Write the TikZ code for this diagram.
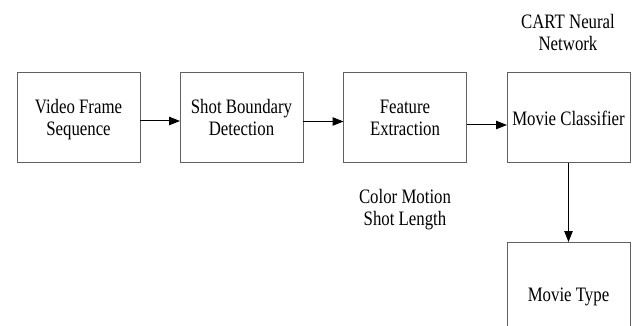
\documentclass[tikz,border=0pt]{standalone}
\usepackage{fontspec}
\setmainfont{Liberation Serif}
\usepackage{graphicx}
\usetikzlibrary{arrows.meta}
\definecolor{framegray}{gray}{0.38}
% stacked, slightly tall label text; baseline = first line
\newcommand{\lbl}[1]{\scalebox{1}[1.22]{\begin{tabular}[t]{@{}c@{}}#1\end{tabular}}}
\begin{document}
\begin{tikzpicture}[x=1pt,y=-1pt,
  font=\fontsize{16.8}{18.6}\selectfont,
  every node/.style={inner sep=0pt,outer sep=0pt},
  stage/.style={draw=framegray,line width=1pt,rectangle,
    minimum width=123pt,minimum height=90pt},
  twoline/.style={text height=0pt,text depth=9.4pt},
  oneline/.style={text height=16pt,text depth=0pt},
  flow/.style={line width=1pt,-{Triangle[length=11pt,width=8.5pt]}}]
\useasboundingbox (0,0) rectangle (635,326);
\clip (0,0) rectangle (635,326);

% processing stages
\node[stage,twoline] (vfs) at (78.5,118) {\lbl{Video Frame\\Sequence}};
\node[stage,twoline] (sbd) at (241.5,118) {\lbl{Shot Boundary\\Detection}};
\node[stage,twoline] (fex) at (405,118) {\lbl{Feature\\Extraction}};
\node[stage,oneline] (cls) at (568.5,118) {\lbl{Movie Classifier}};
\node[stage,oneline,minimum height=102pt] (typ) at (568.5,293) {\lbl{Movie Type}};

% annotations
\node[anchor=base] (cart) at (568,28.3) {\lbl{CART Neural\\Network}};
\node[anchor=base] (feat) at (405,203.3) {\lbl{Color Motion\\Shot Length}};

% data flow
\draw[flow] ([yshift=-3pt]vfs.east) -- ([yshift=-3pt]sbd.west);
\draw[flow] ([yshift=-3.5pt]sbd.east) -- ([yshift=-3.5pt]fex.west);
\draw[flow] ([yshift=-7pt]fex.east) -- ([yshift=-7pt]cls.west);
\draw[flow] (cls.south) -- (typ.north);
\end{tikzpicture}
\end{document}
